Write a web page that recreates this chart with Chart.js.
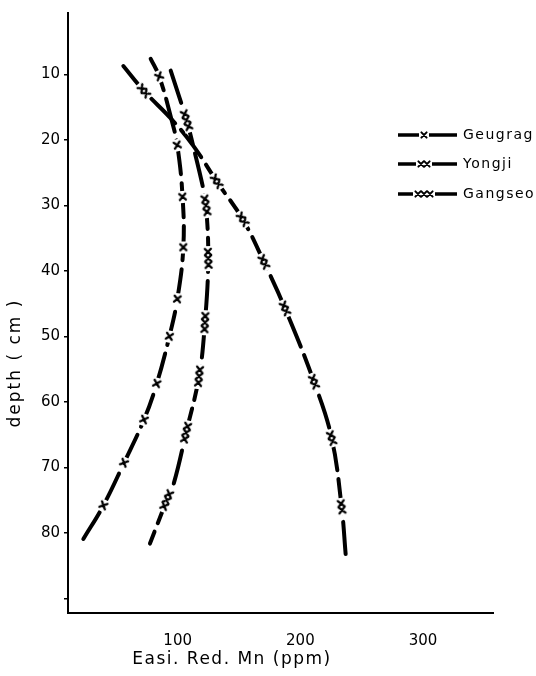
<!DOCTYPE html>
<html><head><meta charset="utf-8">
<script src="https://cdn.jsdelivr.net/npm/chart.js@4.4.0/dist/chart.umd.min.js"></script>
<style>html,body{margin:0;padding:0;background:#fff;}</style>
</head><body>
<canvas id="c" width="536" height="676"></canvas>
<script>
// ---- data ----
const seriesNames = ['Geugrag', 'Yongji', 'Gangseo'];
const markerCounts = [1, 2, 3];

// traced curves (Mn ppm vs depth cm)
const geugragCurveMn    = [78, 85, 95, 99.7, 104, 104.6, 99.7, 93.2, 82.9, 72.5, 56.2, 39.4, 23.1];
const geugragCurveDepth = [7.6, 10.3, 16.9, 20.8, 28.7, 36.4, 44.3, 50.0, 57.2, 62.7, 69.3, 75.8, 80.9];
const yongjiCurveMn     = [55.7, 72.5, 95.4, 112.5, 131.8, 153, 170.3, 187.5, 211.1, 225.5, 233.6, 236.9];
const yongjiCurveDepth  = [8.7, 12.5, 16.9, 20.8, 26.3, 32.1, 38.6, 45.7, 56.9, 65.5, 76.0, 83.2];
const gangseoCurveMn    = [94.3, 107.3, 112.5, 120.6, 123.1, 124.9, 122.2, 117.4, 106.8, 97, 91, 77.4];
const gangseoCurveDepth = [9.4, 17.0, 20.8, 27.2, 30.0, 38.1, 47.9, 56.1, 64.7, 72.3, 75.0, 81.6];

// measured points (markers)
const geugragMarkMn    = [85, 99.7, 104, 104.6, 99.7, 93.2, 82.9, 72.5, 56.2, 39.4];
const geugragMarkDepth = [10.3, 20.8, 28.7, 36.4, 44.3, 50.0, 57.2, 62.7, 69.3, 75.8];
const yongjiMarkMn     = [72.5, 131.8, 153, 170.3, 187.5, 211.1, 225.5, 233.6];
const yongjiMarkDepth  = [12.5, 26.3, 32.1, 38.6, 45.7, 56.9, 65.5, 76.0];
const gangseoMarkMn    = [107.3, 123.1, 124.9, 122.2, 117.4, 106.8, 91];
const gangseoMarkDepth = [17.0, 30.0, 38.1, 47.9, 56.1, 64.7, 75.0];

const xTicks = [100, 200, 300];
const yTicks = [10, 20, 30, 40, 50, 60, 70, 80, 90];
const yTickLabels = ['10', '20', '30', '40', '50', '60', '70', '80', ''];
const xTitle = 'Easi. Red. Mn (ppm)';
const yTitle = 'depth ( cm )';

// ---- helpers ----
const pts = (xs, ys) => xs.map((v, i) => ({x: v, y: ys[i]}));

function markerImage(n) {
  const gap = 6.5, pad = 2.5;
  const c = document.createElement('canvas');
  c.width = 10; c.height = Math.round(n * gap + pad * 2);
  const g = c.getContext('2d');
  g.fillStyle = '#fff'; g.fillRect(0, 0, c.width, c.height);
  g.strokeStyle = '#000'; g.lineWidth = 2.4; g.lineCap = 'round';
  const h = 3;
  for (let k = 0; k < n; k++) {
    const cx = c.width / 2, cy = pad + gap * (k + 0.5);
    g.beginPath();
    g.moveTo(cx - h, cy - h); g.lineTo(cx + h, cy + h);
    g.moveTo(cx + h, cy - h); g.lineTo(cx - h, cy + h);
    g.stroke();
  }
  return c;
}

function tangentRot(chart, cMn, cD, depth) {
  let i = 0;
  while (i < cD.length - 2 && cD[i + 1] < depth) i++;
  const xs = chart.scales.x, ys = chart.scales.y;
  const dx = xs.getPixelForValue(cMn[i + 1]) - xs.getPixelForValue(cMn[i]);
  const dy = ys.getPixelForValue(cD[i + 1]) - ys.getPixelForValue(cD[i]);
  return Math.atan2(-dx, dy) * 180 / Math.PI;
}

const curves = [
  [geugragCurveMn, geugragCurveDepth],
  [yongjiCurveMn, yongjiCurveDepth],
  [gangseoCurveMn, gangseoCurveDepth]
];
const marks = [
  [geugragMarkMn, geugragMarkDepth],
  [yongjiMarkMn, yongjiMarkDepth],
  [gangseoMarkMn, gangseoMarkDepth]
];

const datasets = [];
seriesNames.forEach((name, s) => {
  datasets.push({
    label: name,
    data: pts(curves[s][0], curves[s][1]),
    showLine: true,
    borderColor: '#000',
    borderWidth: 4,
    borderDash: [34, 9],
    borderCapStyle: 'round',
    tension: 0.4,
    pointRadius: 0,
    order: 2
  });
});
seriesNames.forEach((name, s) => {
  const img = markerImage(markerCounts[s]);
  datasets.push({
    label: name + ' points',
    data: pts(marks[s][0], marks[s][1]),
    showLine: false,
    pointStyle: img,
    pointRadius: 5,
    pointRotation: (ctx) => ctx.raw ? tangentRot(ctx.chart, curves[s][0], curves[s][1], ctx.raw.y) : 0,
    order: 1
  });
});

const FONT = '"DejaVu Sans", sans-serif';

const decor = {
  id: 'decor',
  afterDraw(chart) {
    const g = chart.ctx;
    g.save();
    g.fillStyle = '#000';
    // x title
    g.letterSpacing = '1.5px';
    g.font = '17px ' + FONT;
    g.textAlign = 'center'; g.textBaseline = 'middle';
    g.fillText(xTitle, 232, 660);
    // y title
    g.letterSpacing = '2px';
    g.save();
    g.translate(16, 363);
    g.rotate(-Math.PI / 2);
    g.fillText(yTitle, 0, 0);
    g.restore();
    // legend
    const rows = [135, 164, 194];
    g.font = '14px ' + FONT;
    g.textAlign = 'left';
    g.letterSpacing = '1.5px';
    seriesNames.forEach((name, s) => {
      const y = rows[s];
      const n = markerCounts[s];
      const cx = 424, gap = 6;
      const w = n * gap;
      g.strokeStyle = '#000'; g.lineWidth = 3.5; g.lineCap = 'butt';
      g.beginPath();
      g.moveTo(398, y); g.lineTo(cx - w / 2 - 2, y);
      g.moveTo(cx + w / 2 + 2, y); g.lineTo(457, y);
      g.stroke();
      g.lineWidth = 2; g.lineCap = 'round';
      const h = 2.6;
      for (let k = 0; k < n; k++) {
        const px = cx - w / 2 + gap * (k + 0.5);
        g.beginPath();
        g.moveTo(px - h, y - h); g.lineTo(px + h, y + h);
        g.moveTo(px + h, y - h); g.lineTo(px - h, y + h);
        g.stroke();
      }
      g.fillText(name, 463, y);
    });
    g.restore();
  }
};

new Chart(document.getElementById('c'), {
  type: 'scatter',
  data: { datasets },
  options: {
    responsive: false,
    devicePixelRatio: 1,
    animation: false,
    layout: { padding: { left: 0, right: 43, top: 10, bottom: 0 } },
    plugins: { legend: { display: false }, tooltip: { enabled: false } },
    scales: {
      x: {
        type: 'linear',
        min: 10.6, max: 357,
        afterFit: (sc) => { sc.height = 63; },
        afterBuildTicks: (sc) => { sc.ticks = xTicks.map(v => ({value: v})); },
        grid: { display: false },
        border: { display: true, color: '#000', width: 2 },
        ticks: { color: '#000', font: { family: FONT, size: 15 }, padding: 11, maxRotation: 0,
                 callback: (v) => String(v) }
      },
      y: {
        type: 'linear',
        reverse: true,
        min: 0.6, max: 92.2,
        afterFit: (sc) => { sc.width = 68; },
        afterBuildTicks: (sc) => { sc.ticks = yTicks.map(v => ({value: v})); },
        grid: { display: true, drawOnChartArea: false, drawTicks: true, tickLength: 4, color: '#000', lineWidth: 1.5 },
        border: { display: true, color: '#000', width: 2 },
        ticks: { color: '#000', font: { family: FONT, size: 15 }, padding: 4,
                 callback: (v) => { const i = yTicks.indexOf(v); return i >= 0 ? yTickLabels[i] : ''; } }
      }
    }
  },
  plugins: [decor]
});
</script>
</body></html>
